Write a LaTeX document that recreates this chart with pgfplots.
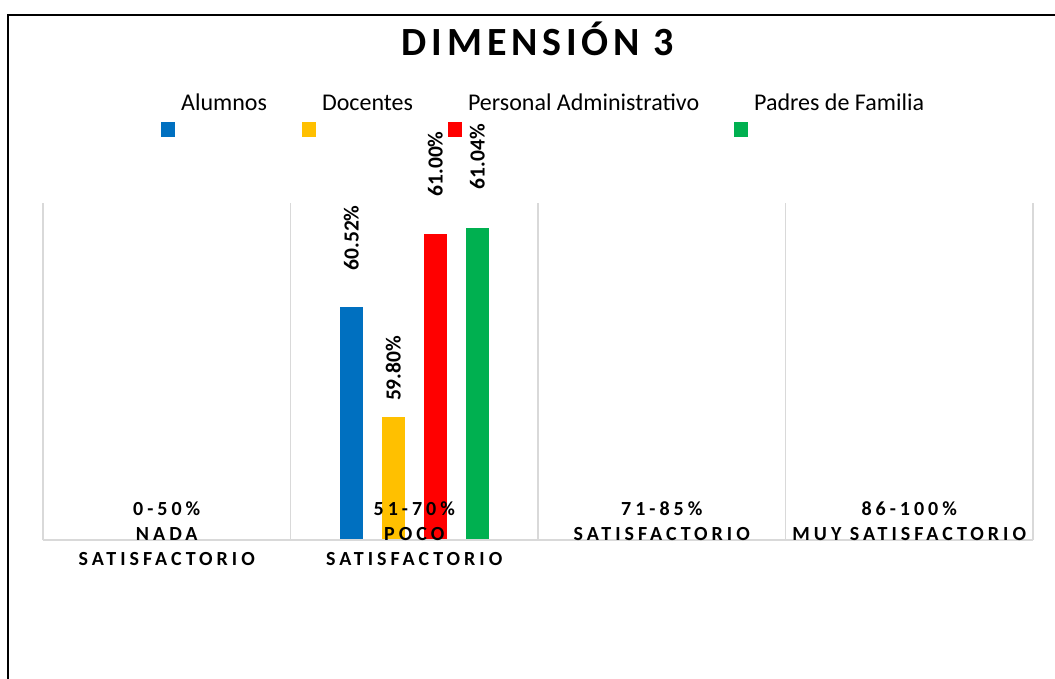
\documentclass[border=0pt]{standalone}
\usepackage{pgfplots}
\pgfplotsset{compat=1.18}
\usepackage{fontspec}
\setmainfont{Carlito}
\newfontfamily\catfont[LetterSpace=20]{Carlito}
\newfontfamily\titlefont[LetterSpace=12]{Carlito}
\definecolor{cAl}{HTML}{0070C0}
\definecolor{cDo}{HTML}{FFC000}
\definecolor{cPe}{HTML}{FF0000}
\definecolor{cPa}{HTML}{00B050}
\definecolor{gridc}{HTML}{D9D9D9}
\begin{document}
\begin{tikzpicture}[x=1pt,y=1pt]
\path[use as bounding box] (0,0) rectangle (1055,678);
\draw[line width=2pt] (1056,663) -- (8,663) -- (8,-2);
\node[anchor=base, font=\titlefont\bfseries\fontsize{40}{48}\selectfont, inner sep=0pt] at (538,622) {DIMENSIÓN 3};
\begin{axis}[
  at={(43pt,138pt)}, anchor=south west,
  scale only axis, width=990pt, height=337pt,
  ymin=59, ymax=61.2, xmin=-0.5, xmax=3.5,
  ybar=19pt, bar width=23pt,
  axis on top,
  axis x line*=bottom, axis y line=none,
  x axis line style={gridc, line width=1.5pt},
  xtick={0,1,2,3},
  xticklabels={{0-50\%\\NADA\\SATISFACTORIO},{51-70\%\\POCO\\SATISFACTORIO},{71-85\%\\SATISFACTORIO},{86-100\%\\MUY SATISFACTORIO}},
  minor xtick={-0.5,0.5,1.5,2.5,3.5},
  xminorgrids=true, xmajorgrids=false,
  minor grid style={gridc, line width=1.5pt},
  major tick length=0pt, minor tick length=0pt,
  xticklabel style={font=\catfont\bfseries\fontsize{20}{25}\selectfont, align=center, anchor=north, inner sep=0pt, yshift=38.3pt},
  clip=false,
  /pgf/number format/assume math mode=true,
  legend columns=4,
  legend style={at={(0.1192,1.3234)}, anchor=north west, draw=none, fill=none, inner sep=0pt,
    font=\fontsize{24}{29}\selectfont,
    /tikz/every odd column/.append style={column sep=6pt},
    /tikz/every even column/.append style={column sep=35pt},
    nodes={inner sep=0pt}},
  legend image code/.code={\draw[#1, draw=none] (0pt,-34pt) rectangle (14pt,-19pt);},
  nodes near coords={\pgfmathprintnumber[fixed,fixed zerofill,precision=2,assume math mode=true]{\pgfplotspointmeta}\%},
  every node near coord/.append style={font=\bfseries\fontsize{21.5}{26}\selectfont, rotate=90, anchor=west, inner sep=0pt, text=black},
]
\addplot[fill=cAl, draw=none, every node near coord/.append style={xshift=36.6pt}] coordinates {(1,60.52)};
\addplot[fill=cDo, draw=none, every node near coord/.append style={xshift=16.3pt}] coordinates {(1,59.80)};
\addplot[fill=cPe, draw=none, every node near coord/.append style={xshift=37pt}] coordinates {(1,61.00)};
\addplot[fill=cPa, draw=none, every node near coord/.append style={xshift=38pt}] coordinates {(1,61.04)};
\legend{Alumnos,Docentes,Personal Administrativo,Padres de Familia}
\end{axis}
\end{tikzpicture}
\end{document}
